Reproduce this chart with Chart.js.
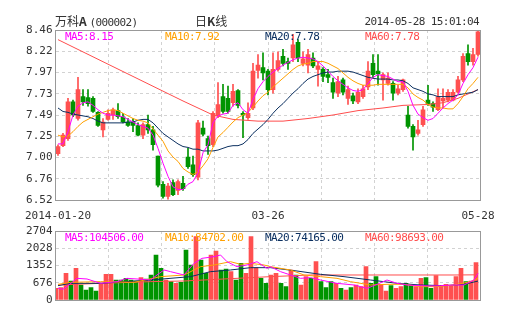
<!DOCTYPE html>
<html>
<head>
<meta charset="utf-8">
<script src="https://cdn.jsdelivr.net/npm/chart.js@4.4.1/dist/chart.umd.min.js"></script>
<style>
html, body { margin: 0; padding: 0; background: #fff; }
#wrap { position: relative; width: 505px; height: 330px; overflow: hidden; }
canvas { position: absolute; left: 0; }
.t { position: absolute; font-family: "DejaVu Sans Mono", monospace; font-size: 11px; line-height: 14px; letter-spacing: -0.6px; white-space: nowrap; color: #333; }
.cn { font-family: "Noto Sans CJK SC", sans-serif; font-size: 12px; letter-spacing: 0; }
.cn .m { font-family: "DejaVu Sans Mono", monospace; font-size: 11px; letter-spacing: -0.6px; }
</style>
</head>
<body>
<div id="wrap">
  <canvas id="kline" width="505" height="225" style="top:0"></canvas>
  <canvas id="vol" width="505" height="112" style="top:218px"></canvas>

  <div class="t cn" style="left:55px;top:14px">万科<b>A</b> <span class="m">(000002)</span></div>
  <div class="t cn" style="left:195px;top:14px">日<b>K</b>线</div>
  <div class="t" style="right:26px;top:15px">2014-05-28 15:01:04</div>

  <div class="t" style="left:65px;top:30px;color:#ff00ff">MA5:8.15</div>
  <div class="t" style="left:165px;top:30px;color:#ffa000">MA10:7.92</div>
  <div class="t" style="left:265px;top:30px;color:#0c3060">MA20:7.78</div>
  <div class="t" style="left:365px;top:30px;color:#ff4d4d">MA60:7.78</div>

  <div class="t" style="left:65px;top:231px;color:#ff00ff">MA5:104506.00</div>
  <div class="t" style="left:165px;top:231px;color:#ffa000">MA10:84702.00</div>
  <div class="t" style="left:265px;top:231px;color:#0c3060">MA20:74165.00</div>
  <div class="t" style="left:365px;top:231px;color:#ff4d4d">MA60:98693.00</div>
</div>

<script>
// 万科A 日K线 2014-01-20 ~ 2014-05-28
Chart.defaults.font.family = '"DejaVu Sans Mono", monospace';
Chart.defaults.font.size = 11;
Chart.defaults.color = '#333';
Chart.defaults.animation = false;

// 交易日
const dates = ['2014-01-20','2014-01-21','2014-01-22','2014-01-23','2014-01-24','2014-01-27','2014-01-28','2014-01-29','2014-01-30',
  '2014-02-07','2014-02-10','2014-02-11','2014-02-12','2014-02-13','2014-02-14','2014-02-17','2014-02-18','2014-02-19','2014-02-20','2014-02-21','2014-02-24','2014-02-25','2014-02-26','2014-02-27','2014-02-28',
  '2014-03-03','2014-03-04','2014-03-05','2014-03-06','2014-03-07','2014-03-10','2014-03-11','2014-03-12','2014-03-13','2014-03-14','2014-03-17','2014-03-18','2014-03-19','2014-03-20','2014-03-21','2014-03-24','2014-03-25','2014-03-26','2014-03-27','2014-03-28','2014-03-31',
  '2014-04-01','2014-04-02','2014-04-03','2014-04-04','2014-04-08','2014-04-09','2014-04-10','2014-04-11','2014-04-14','2014-04-15','2014-04-16','2014-04-17','2014-04-18','2014-04-21','2014-04-22','2014-04-23','2014-04-24','2014-04-25','2014-04-28','2014-04-29','2014-04-30',
  '2014-05-05','2014-05-06','2014-05-07','2014-05-08','2014-05-09','2014-05-12','2014-05-13','2014-05-14','2014-05-15','2014-05-16','2014-05-19','2014-05-20','2014-05-21','2014-05-22','2014-05-23','2014-05-26','2014-05-27','2014-05-28'];

const xTickIdx = [0, 42, 84];
const xTickText = ['2014-01-20', '03-26', '05-28'];

// K线 开高低收
const opens = [7.05,7.14,7.22,7.64,7.45,7.70,7.69,7.68,7.52,7.32, 7.44,7.49,7.54,7.47,7.41,7.41,7.37,7.26,7.38,7.32,
  7.02,6.70,6.56,6.72,6.63,6.71,7.01,6.92,6.78,7.34, 7.22,7.15,7.48,7.70,7.68,7.63,7.77,7.51,7.46,7.57,
  8.00,8.03,7.99,7.78,8.01,8.16,8.10,8.14,8.32,8.08, 8.06,8.14,8.01,8.01,7.95,7.86,7.74,7.89,7.68,7.71,
  7.64,7.70,7.81,8.08,7.99,7.89,7.85,7.85,7.74,7.78, 7.49,7.36,7.28,7.38,7.66,7.62,7.55,7.65,7.66,7.66,
  7.75,7.89,8.19,8.10,8.18];
const highs = [7.15,7.28,7.68,7.66,7.92,7.78,7.78,7.70,7.53,7.45, 7.55,7.57,7.62,7.51,7.45,7.45,7.40,7.40,7.49,7.36,
  7.02,6.73,6.71,6.75,6.75,6.79,7.11,7.02,7.43,7.42, 7.25,7.53,7.86,7.84,7.82,7.84,7.78,7.53,7.63,8.08,
  8.18,8.20,8.01,8.20,8.21,8.24,8.14,8.41,8.35,8.21, 8.24,8.20,8.10,8.03,8.01,7.91,7.93,7.91,7.82,7.74,
  7.79,7.83,8.10,8.18,8.18,7.97,7.97,7.87,7.83,7.90, 7.59,7.38,7.43,7.59,7.83,7.64,7.79,7.79,7.78,7.78,
  7.93,8.19,8.29,8.25,8.46];
const lows = [7.03,7.13,7.20,7.47,7.43,7.60,7.59,7.52,7.36,7.24, 7.43,7.44,7.45,7.40,7.36,7.30,7.25,7.22,7.28,7.09,
  6.67,6.54,6.53,6.57,6.58,6.63,6.88,6.79,6.75,7.25, 7.04,7.13,7.46,7.51,7.51,7.59,7.57,7.23,7.44,7.55,
  7.91,7.89,7.72,7.74,7.99,8.05,8.01,8.10,8.10,8.05, 7.97,8.03,7.82,7.87,7.86,7.68,7.70,7.72,7.61,7.62,
  7.62,7.68,7.78,7.91,7.83,7.66,7.83,7.66,7.72,7.76, 7.34,7.09,7.26,7.36,7.60,7.53,7.54,7.57,7.64,7.65,
  7.74,7.87,8.06,8.06,8.16];
const closes = [7.13,7.26,7.64,7.49,7.78,7.64,7.62,7.53,7.37,7.41, 7.51,7.55,7.47,7.41,7.37,7.37,7.26,7.38,7.32,7.15,
  6.69,6.56,6.68,6.58,6.73,6.65,6.90,6.81,7.40,7.27, 7.14,7.51,7.61,7.53,7.53,7.76,7.60,7.49,7.51,7.99,
  8.06,7.97,7.78,8.01,8.11,8.08,8.08,8.29,8.14,8.13, 8.18,8.05,8.05,7.93,7.92,7.75,7.87,7.75,7.78,7.65,
  7.75,7.79,7.99,7.95,7.96,7.95,7.91,7.74,7.79,7.89, 7.36,7.24,7.32,7.55,7.62,7.58,7.70,7.68,7.75,7.75,
  7.89,8.16,8.10,8.18,8.44];

// 均线 [序号, 价格]
const ma5 = [[0,7.16],[1,7.16],[2,7.30],[3,7.49],[4,7.59],[5,7.63],[6,7.64],[7,7.60],[8,7.55],[9,7.51],[10,7.49],[11,7.49],[12,7.48],[13,7.47],[14,7.44],[15,7.41],[16,7.38],[17,7.36],[18,7.34],[19,7.26],[20,7.11],[21,6.94],[22,6.79],[23,6.67],[24,6.64],[25,6.64],[26,6.70],[27,6.73],[28,6.83],[29,7.06],[30,7.15],[31,7.40],[32,7.48],[33,7.50],[34,7.51],[35,7.60],[36,7.63],[37,7.55],[38,7.51],[39,7.67],[40,7.79],[41,7.87],[42,7.93],[43,7.98],[44,8.02],[45,8.06],[46,8.09],[47,8.12],[48,8.14],[49,8.15],[50,8.14],[51,8.13],[52,8.10],[53,8.05],[54,7.99],[55,7.93],[56,7.88],[57,7.84],[58,7.80],[59,7.77],[60,7.76],[61,7.78],[62,7.85],[63,7.92],[64,7.95],[65,7.94],[66,7.93],[67,7.90],[68,7.87],[69,7.87],[70,7.76],[71,7.60],[72,7.50],[73,7.46],[74,7.43],[75,7.45],[76,7.51],[77,7.57],[78,7.62],[79,7.66],[80,7.72],[81,7.85],[82,7.95],[83,8.03],[84,8.15]];
const ma10 = [[0,7.26],[1,7.24],[2,7.25],[3,7.30],[4,7.36],[5,7.41],[6,7.44],[7,7.47],[8,7.50],[9,7.52],[10,7.54],[11,7.55],[12,7.54],[13,7.51],[14,7.48],[15,7.45],[16,7.43],[17,7.42],[18,7.40],[19,7.33],[20,7.26],[21,7.19],[22,7.08],[23,7.01],[24,6.96],[25,6.88],[26,6.84],[27,6.81],[28,6.84],[29,6.91],[30,6.99],[31,7.12],[32,7.24],[33,7.29],[34,7.35],[35,7.41],[36,7.46],[37,7.49],[38,7.52],[39,7.58],[40,7.65],[41,7.71],[42,7.75],[43,7.81],[44,7.86],[45,7.91],[46,7.96],[47,8.01],[48,8.05],[49,8.07],[50,8.08],[51,8.10],[52,8.10],[53,8.10],[54,8.08],[55,8.05],[56,8.02],[57,7.97],[58,7.92],[59,7.88],[60,7.85],[61,7.83],[62,7.83],[63,7.83],[64,7.84],[65,7.84],[66,7.84],[67,7.84],[68,7.84],[69,7.84],[70,7.80],[71,7.73],[72,7.69],[73,7.66],[74,7.61],[75,7.58],[76,7.57],[77,7.57],[78,7.56],[79,7.56],[80,7.62],[81,7.70],[82,7.79],[83,7.85],[84,7.92]];
const ma20 = [[0,7.57],[1,7.53],[2,7.52],[3,7.50],[4,7.49],[5,7.48],[6,7.47],[7,7.45],[8,7.42],[9,7.40],[10,7.40],[11,7.40],[12,7.40],[13,7.40],[14,7.41],[15,7.41],[16,7.43],[17,7.44],[18,7.44],[19,7.40],[20,7.34],[21,7.28],[22,7.24],[23,7.20],[24,7.16],[25,7.13],[26,7.12],[27,7.10],[28,7.10],[29,7.08],[30,7.08],[31,7.08],[32,7.09],[33,7.11],[34,7.13],[35,7.14],[36,7.14],[37,7.16],[38,7.21],[39,7.28],[40,7.33],[41,7.38],[42,7.44],[43,7.51],[44,7.57],[45,7.62],[46,7.68],[47,7.74],[48,7.79],[49,7.85],[50,7.90],[51,7.93],[52,7.95],[53,7.97],[54,7.98],[55,7.98],[56,7.99],[57,7.99],[58,7.99],[59,7.98],[60,7.96],[61,7.94],[62,7.92],[63,7.91],[64,7.90],[65,7.90],[66,7.90],[67,7.89],[68,7.89],[69,7.88],[70,7.85],[71,7.80],[72,7.78],[73,7.76],[74,7.73],[75,7.72],[76,7.70],[77,7.70],[78,7.70],[79,7.70],[80,7.72],[81,7.73],[82,7.74],[83,7.75],[84,7.78]];
const ma60 = [[0,8.35],[5,8.21],[10,8.07],[15,7.93],[20,7.79],[25,7.65],[28,7.57],[31,7.49],[35,7.44],[40,7.42],[45,7.42],[50,7.45],[55,7.49],[60,7.54],[65,7.57],[69,7.60],[74,7.61],[77,7.63],[80,7.68],[84,7.78]];

// 成交量 (百手)
const vols = [458,484,1045,745,1241,588,392,484,353,614, 1006,1006,784,784,849,784,745,875,823,980,
  1764,1241,784,719,653,692,1960,1372,2482,1568, 1045,1764,1920,1176,1215,1111,784,1437,1045,2482,
  1267,849,653,980,1045,653,523,1176,980,588, 915,849,1502,719,484,719,653,458,392,484,
  588,523,1306,653,915,614,353,562,458,523, 653,588,523,849,876,458,954,562,614,562,
  915,1241,719,745,1463];

const vma5 = [[0,460],[1,420],[2,560],[3.8,849],[5.8,823],[8.5,653],[11.8,719],[13.8,849],[15.8,823],[18.5,784],[19.8,980],[21.2,1176],[22.5,1111],[25.2,980],[27.2,1437],[28.8,1633],[31.2,1698],[32.5,1764],[33.8,1502],[35.8,1306],[37.8,1372],[39.8,1502],[41.8,1241],[42.5,1306],[44.5,1111],[46.5,980],[48.5,849],[50.5,876],[52.5,784],[55.8,653],[59.2,588],[61.8,458],[63.8,614],[65.8,784],[67.8,653],[69.8,588],[72.5,562],[74.5,549],[76.5,562],[79.2,588],[81.2,588],[83.2,784],[84,1045]];
const vma10 = [[0,614],[2.5,692],[8.5,719],[15.2,692],[20.5,915],[25.2,980],[28.5,1306],[31.2,1372],[34.5,1502],[36.5,1398],[38.5,1437],[41.2,1372],[42.5,1306],[46.5,1176],[49.2,980],[52.5,915],[55.8,849],[58.5,719],[62.5,588],[65.8,614],[69.2,614],[72.5,523],[75.8,523],[79.2,588],[82.5,719],[84,847]];
const vma20 = [[0,562],[2.5,653],[8.5,653],[18.5,784],[26.5,915],[30.5,1111],[34.5,1176],[38.5,1267],[42.5,1267],[47.8,1137],[52.5,1006],[57.2,915],[62.5,784],[67.8,653],[72.5,588],[77.2,562],[81.2,614],[84,742]];
const vma60 = [[0,588],[8.5,653],[18.5,719],[25.2,745],[35.8,849],[42.5,915],[50.5,980],[79.2,980],[84,987]];

const priceTicks = [6.52, 6.7625, 7.005, 7.2475, 7.49, 7.7325, 7.975, 8.2175, 8.46];
const priceTickLabels = ['6.52', '6.76', '7.00', '7.25', '7.49', '7.73', '7.97', '8.22', '8.46'];
const volTicks = [0, 676, 1352, 2028, 2704];
const volTickLabels = ['0', '676', '1352', '2028', '2704'];

// 颜色
const UP = '#ff5050', DOWN = '#009400';
const C_MA5 = '#ff00ff', C_MA10 = '#ffa000', C_MA20 = '#0c3060', C_MA60 = '#ff4d4d';
const GRID = '#d2d2d2';

const candleColors = closes.map((c, i) => c >= opens[i] ? UP : DOWN);

// 外框
const framePlugin = {
    id: 'frame',
    afterDatasetsDraw(chart) {
        const a = chart.chartArea, ctx = chart.ctx;
        const x0 = Math.floor(a.left) + 0.5, x1 = Math.floor(a.right) + 0.5;
        const y0 = Math.floor(a.top) + 0.5, y1 = Math.floor(a.bottom) + 0.5;
        ctx.save();
        ctx.strokeStyle = '#999';
        ctx.lineWidth = 1;
        ctx.strokeRect(x0, y0, x1 - x0, y1 - y0);
        ctx.restore();
    }
};

function maLine(points, color, order, yId) {
    return {
        type: 'line',
        xAxisID: 'xl',
        yAxisID: yId,
        data: points.map(p => ({ x: p[0], y: p[1] })),
        borderColor: color,
        borderWidth: 1,
        pointRadius: 0,
        fill: false,
        tension: 0,
        order: order
    };
}

// 竖向网格 8 等分 (bar 图默认给 x 轴加 offset，这里关掉)
function gridAxis() {
    return {
        type: 'linear',
        position: 'top',
        offset: false,
        min: 0,
        max: 8,
        ticks: { display: false, stepSize: 1 },
        grid: { color: GRID, drawTicks: false, offset: false },
        border: { display: false, dash: [3, 3] },
        afterFit(s) { s.height = 0; }
    };
}

function lineAxis() {
    return { type: 'linear', offset: false, min: -0.5, max: 84.5, display: false };
}

new Chart(document.getElementById('kline'), {
    type: 'bar',
    data: {
        labels: dates,
        datasets: [
            {
                data: lows.map((l, i) => [l, highs[i]]),
                backgroundColor: candleColors,
                barThickness: 1,
                grouped: false,
                borderWidth: 0,
                order: 10
            },
            {
                data: opens.map((o, i) => [o, closes[i]]),
                backgroundColor: candleColors,
                barThickness: 4,
                minBarLength: 1,
                grouped: false,
                borderWidth: 0,
                order: 9
            },
            maLine(ma60, C_MA60, 4, 'y'),
            maLine(ma20, C_MA20, 3, 'y'),
            maLine(ma10, C_MA10, 2, 'y'),
            maLine(ma5, C_MA5, 1, 'y')
        ]
    },
    options: {
        responsive: false,
        layout: { padding: { top: 30, right: 24.5, left: 0, bottom: 0 } },
        plugins: { legend: { display: false }, tooltip: { enabled: false } },
        scales: {
            x: {
                type: 'category',
                offset: true,
                grid: { display: false, drawTicks: false },
                border: { display: false },
                ticks: {
                    autoSkip: false,
                    maxRotation: 0,
                    padding: 10,
                    color: '#333',
                    callback: function(v, i) {
                        const k = xTickIdx.indexOf(i);
                        return k < 0 ? '' : xTickText[k];
                    }
                },
                afterFit(s) { s.height = 25; }
            },
            xl: lineAxis(),
            xg: gridAxis(),
            y: {
                min: 6.52,
                max: 8.46,
                grid: { color: GRID, drawTicks: false },
                border: { display: false, dash: [3, 3] },
                ticks: {
                    padding: 3,
                    color: '#333',
                    callback: function(v, i) { return priceTickLabels[i]; }
                },
                afterBuildTicks(s) { s.ticks = priceTicks.map(v => ({ value: v })); },
                afterFit(s) { s.width = 55.5; }
            }
        }
    },
    plugins: [framePlugin]
});

new Chart(document.getElementById('vol'), {
    type: 'bar',
    data: {
        labels: dates,
        datasets: [
            {
                data: vols,
                backgroundColor: candleColors,
                barThickness: 4,
                borderWidth: 0,
                order: 10
            },
            maLine(vma60, C_MA60, 4, 'y'),
            maLine(vma20, C_MA20, 3, 'y'),
            maLine(vma10, C_MA10, 2, 'y'),
            maLine(vma5, C_MA5, 1, 'y')
        ]
    },
    options: {
        responsive: false,
        layout: { padding: { top: 13, right: 24.5, left: 0, bottom: 30 } },
        plugins: { legend: { display: false }, tooltip: { enabled: false } },
        scales: {
            x: { type: 'category', offset: true, display: false },
            xl: lineAxis(),
            xg: gridAxis(),
            y: {
                min: 0,
                max: 2704,
                grid: { color: GRID, drawTicks: false },
                border: { display: false, dash: [3, 3] },
                ticks: {
                    padding: 3,
                    color: '#333',
                    callback: function(v, i) { return volTickLabels[i]; }
                },
                afterBuildTicks(s) { s.ticks = volTicks.map(v => ({ value: v })); },
                afterFit(s) { s.width = 55.5; }
            }
        }
    },
    plugins: [framePlugin]
});
</script>
</body>
</html>
